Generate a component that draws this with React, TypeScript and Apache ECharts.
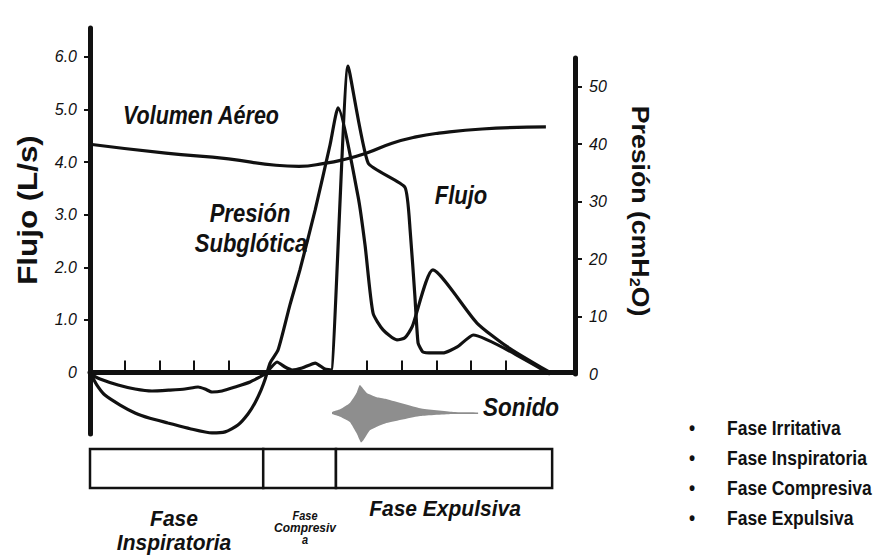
import React, { useEffect, useRef } from 'react';
import * as echarts from 'echarts';

const FONT = '"Liberation Sans", Arial, Helvetica, sans-serif';

// time axis (arbitrary units 0..14)
const xTicks = [1, 2, 3, 4, 8, 9, 10, 11, 12];
const leftTicks = [0, 1, 2, 3, 4, 5, 6];
const rightTicks = [0, 10, 20, 30, 40, 50];

// Volumen Aéreo (left axis)
const volumenX = [0, 2.19, 4.0, 5.37, 6.03, 6.81, 7.27, 7.97, 8.72, 9.41, 10.07, 11.32, 13.16];
const volumenY = [4.34, 4.17, 4.06, 3.94, 3.92, 3.98, 4.04, 4.17, 4.36, 4.48, 4.55, 4.63, 4.67];

// Flujo (left axis, L/s)
const flujoX = [0, 0.2, 0.43, 0.87, 1.3, 1.73, 2.25, 2.89, 3.52, 3.9, 4.27, 4.56, 4.76, 4.94, 5.05, 5.2, 5.43, 5.77, 6.06, 6.5, 6.93, 7.16, 7.74, 7.94, 8.17, 8.46, 8.86, 9.09, 9.3, 9.9, 11.17, 12.04, 13.28];
const flujoY = [0, -0.24, -0.43, -0.62, -0.77, -0.87, -0.96, -1.07, -1.15, -1.13, -1.0, -0.79, -0.58, -0.33, -0.14, 0.18, 0.43, 1.28, 1.95, 3.09, 4.33, 5.03, 3.34, 2.42, 1.13, 0.81, 0.62, 0.66, 0.87, 1.95, 0.94, 0.49, 0];

// Presión subglótica (right axis, cmH2O)
const presionX = [0, 0.29, 0.81, 1.3, 1.79, 2.31, 2.74, 3.12, 3.32, 3.52, 3.81, 4.19, 4.62, 5.05, 5.4, 5.63, 5.83, 6.12, 6.5, 6.78, 6.96, 7.45, 8.03, 9.09, 9.24, 9.38, 9.47, 9.61, 9.9, 10.19, 10.6, 11.06, 13.28];
const presionY = [0, -0.87, -1.91, -2.61, -2.96, -2.79, -2.61, -2.26, -2.61, -3.13, -2.96, -2.26, -1.39, 0, 2.09, 1.22, 0.7, 1.04, 1.91, 0.87, 0.7, 53.6, 36.7, 32.5, 25.1, 13.4, 5.4, 3.83, 3.66, 3.66, 4.7, 6.79, 0];

// Sonido (outline, left-axis units)
const sonidoX = [6.99, 7.22, 7.5, 7.7, 7.79, 7.99, 8.28, 8.52, 9.53, 10.48, 11.2, 11.2, 10.48, 9.53, 8.52, 8.28, 8.08, 7.88, 7.82, 7.7, 7.5, 7.22, 6.99];
const sonidoY = [-0.75, -0.7, -0.58, -0.38, -0.24, -0.39, -0.47, -0.5, -0.68, -0.75, -0.76, -0.79, -0.79, -0.83, -0.97, -1.03, -1.1, -1.3, -1.33, -1.16, -0.94, -0.84, -0.79];

// Fases
const phaseStart = [0, 5.0, 7.1];
const phaseEnd = [5.0, 7.1, 13.34];

const bullets = ['Fase Irritativa', 'Fase Inspiratoria', 'Fase Compresiva', 'Fase Expulsiva'];

const zip = (xs: number[], ys: number[]) => xs.map((x, i) => [x, ys[i]]);

function txt(text: string, x: number, y: number, size: number, extra: any = {}) {
  const { scaleX = 1, scaleY = 1.16, rotation = 0, italic = true, align = 'center', ...rest } = extra;
  return {
    type: 'text',
    x,
    y,
    rotation,
    scaleX,
    scaleY,
    z: 10,
    style: {
      text,
      fontSize: size,
      fontWeight: 'bold',
      fontStyle: italic ? 'italic' : 'normal',
      fontFamily: FONT,
      fill: '#111',
      align,
      verticalAlign: 'middle',
      ...rest,
    },
  };
}

export default function App() {
  const ref = useRef<HTMLDivElement>(null);
  useEffect(() => {
    if (!ref.current) return;
    const chart = echarts.init(ref.current, undefined, { renderer: 'svg' });
    const axisColor = '#111';
    const graphic: any[] = [
      txt('Volumen Aéreo', 201, 115, 21.5),
      txt('Presión', 250, 213, 22),
      txt('Subglótica', 251, 243, 22),
      txt('Flujo', 461, 195, 22),
      txt('Sonido', 521, 407, 22.5),
      txt('Fase', 174, 518, 21, { scaleY: 1.08 }),
      txt('Inspiratoria', 174, 542, 21, { scaleY: 1.08 }),
      txt('Fase', 305, 516, 11, { scaleY: 1.1 }),
      txt('Compresiv', 305, 528, 12, { scaleY: 1.1 }),
      txt('a', 305, 540, 11, { scaleY: 1.1 }),
      txt('Fase Expulsiva', 445, 508, 21, { scaleY: 1.08 }),
      txt('Flujo (L/s)', 28, 210, 27, { italic: false, rotation: Math.PI / 2, scaleX: 1.16, scaleY: 1 }),
      {
        type: 'text',
        x: 640,
        y: 211,
        rotation: -Math.PI / 2,
        scaleX: 1.16,
        z: 10,
        style: {
          text: '{a|Presión (cmH}{s|2}{a|O)}',
          align: 'center',
          verticalAlign: 'middle',
          fill: '#111',
          rich: {
            a: { fontSize: 23, fontWeight: 'bold', fontFamily: FONT, fill: '#111' },
            s: { fontSize: 14, fontWeight: 'bold', fontFamily: FONT, fill: '#111', verticalAlign: 'bottom', padding: [10, 0, 0, 0] },
          },
        },
      },
    ];
    bullets.forEach((b, i) => {
      const y = 428 + i * 30;
      graphic.push(txt('•', 692, y, 17.5, { italic: false, scaleY: 1.15 }));
      graphic.push(txt(b, 727, y, 17.5, { italic: false, scaleY: 1.15, align: 'left' }));
    });

    const lineStyle = { color: '#111', width: 3.2 };
    chart.setOption({
      animation: false,
      backgroundColor: '#fff',
      grid: [
        { left: 90, top: 28, width: 485, height: 406 },
        { left: 90, top: 58, width: 485, height: 316 },
      ],
      xAxis: [
        {
          gridIndex: 0,
          type: 'value',
          min: 0,
          max: 14,
          axisLine: { show: true, onZero: true, lineStyle: { color: axisColor, width: 5 } },
          axisTick: { show: true, inside: true, length: 12, customValues: xTicks, lineStyle: { color: axisColor, width: 2 } },
          axisLabel: { show: false },
          splitLine: { show: false },
        },
        { gridIndex: 1, type: 'value', min: 0, max: 14, show: false },
      ],
      yAxis: [
        {
          gridIndex: 0,
          type: 'value',
          min: -1.17,
          max: 6.55,
          axisLine: { show: true, onZero: false, lineStyle: { color: axisColor, width: 5 } },
          axisTick: { show: true, length: 6, customValues: [1, 2, 3, 4, 5, 6], lineStyle: { color: axisColor, width: 2 } },
          axisLabel: {
            customValues: leftTicks,
            formatter: (v: number) => (v === 0 ? '0' : v.toFixed(1)),
            margin: 13,
            fontStyle: 'italic',
            fontSize: 16,
            color: '#111',
            fontFamily: FONT,
          },
          splitLine: { show: false },
        },
        {
          gridIndex: 1,
          type: 'value',
          position: 'right',
          min: 0,
          max: 55,
          axisLine: { show: true, onZero: false, lineStyle: { color: axisColor, width: 5 } },
          axisTick: { show: true, length: 7, customValues: [10, 20, 30, 40, 50], lineStyle: { color: axisColor, width: 2 } },
          axisLabel: {
            customValues: rightTicks,
            margin: 14,
            fontStyle: 'italic',
            fontSize: 16,
            color: '#111',
            fontFamily: FONT,
          },
          splitLine: { show: false },
        },
      ],
      series: [
        {
          name: 'Volumen Aéreo',
          type: 'line',
          xAxisIndex: 0,
          yAxisIndex: 0,
          data: zip(volumenX, volumenY),
          smooth: true,
          symbol: 'none',
          lineStyle,
          clip: false,
        },
        {
          name: 'Flujo',
          type: 'line',
          xAxisIndex: 0,
          yAxisIndex: 0,
          data: zip(flujoX, flujoY),
          smooth: 0.2,
          symbol: 'none',
          lineStyle,
          clip: false,
        },
        {
          name: 'Presión Subglótica',
          type: 'line',
          xAxisIndex: 1,
          yAxisIndex: 1,
          data: zip(presionX, presionY),
          smooth: 0.15,
          symbol: 'none',
          lineStyle,
          clip: false,
        },
        {
          name: 'Sonido',
          type: 'custom',
          xAxisIndex: 0,
          yAxisIndex: 0,
          clip: false,
          data: [[sonidoX[0], sonidoY[0]]],
          renderItem: (params: any, api: any) => {
            const points = sonidoX.map((x, i) => api.coord([x, sonidoY[i]]));
            return { type: 'polygon', shape: { points, smooth: 0.15 }, style: { fill: '#8e8e8e' } };
          },
        },
        {
          name: 'Fases',
          type: 'custom',
          xAxisIndex: 0,
          yAxisIndex: 0,
          clip: false,
          data: phaseStart.map((s, i) => [s, phaseEnd[i]]),
          renderItem: (params: any, api: any) => {
            const x0 = api.coord([api.value(0), 0])[0];
            const x1 = api.coord([api.value(1), 0])[0];
            return {
              type: 'rect',
              shape: { x: x0, y: 449, width: x1 - x0, height: 39 },
              style: { fill: '#fff', stroke: '#111', lineWidth: 2.5 },
            };
          },
        },
      ],
      graphic,
    });
    return () => chart.dispose();
  }, []);
  return <div ref={ref} style={{ position: 'absolute', left: 0, top: 0, width: 874, height: 555, background: '#fff' }} />;
}
